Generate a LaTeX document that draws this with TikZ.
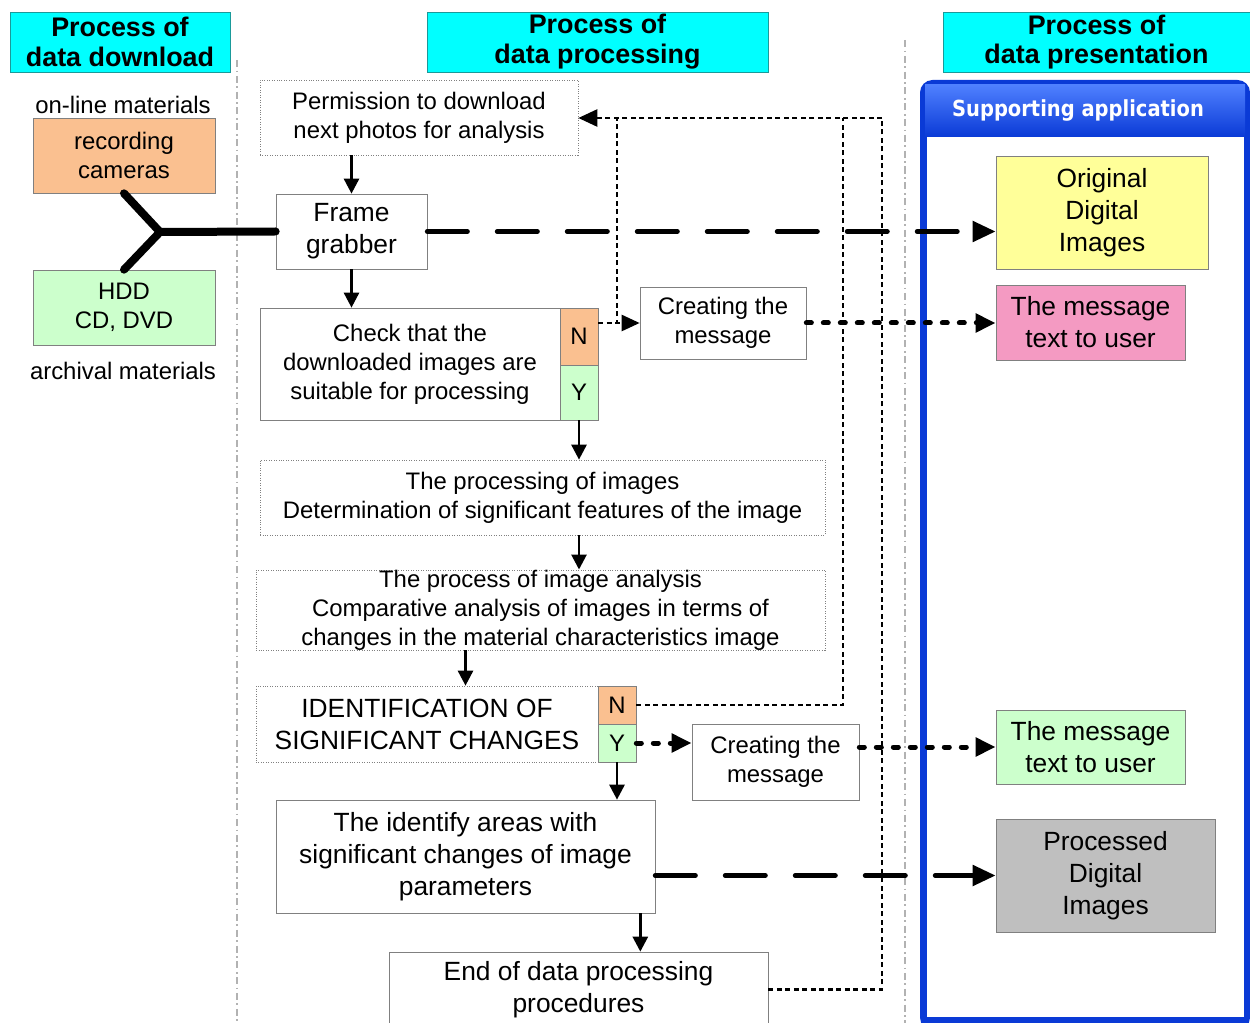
\documentclass[tikz,border=0pt]{standalone}
\usepackage{fontspec}
\setmainfont{Liberation Sans}
\newfontfamily\appfont[FakeStretch=0.88]{DejaVu Sans}
\usetikzlibrary{arrows.meta,calc}
\definecolor{headcyan}{HTML}{00FFFF}
\definecolor{headedge}{HTML}{1A9A9A}
\definecolor{camfill}{HTML}{FAC090}
\definecolor{greenfill}{HTML}{CCFFCC}
\definecolor{yellowfill}{HTML}{FFFF99}
\definecolor{pinkfill}{HTML}{F49AC2}
\definecolor{grayfill}{HTML}{BFBFBF}
\definecolor{appblue}{HTML}{0A3AD6}
\definecolor{applight}{HTML}{4F80FF}
\definecolor{boxedge}{HTML}{808080}
\newcommand\smalltxt{\fontsize{13.6}{16.5}\selectfont}
\newcommand\bigtxt{\fontsize{15}{18.2}\selectfont}

\begin{document}
\begin{tikzpicture}[x=0.02cm, y=-0.02cm,
  header/.style={rectangle, draw=headedge, fill=headcyan, inner sep=0pt, align=center,
    font=\bfseries\fontsize{15.3}{17}\selectfont, minimum height=1.2cm},
  box/.style={rectangle, draw=boxedge, fill=white, inner sep=0pt, align=center, font=\smalltxt},
  dotbox/.style={box, densely dotted},
  bigbox/.style={box, font=\bigtxt},
  flag/.style={rectangle, draw=boxedge, inner sep=0pt, minimum width=0.76cm, font=\smalltxt},
  apptitle/.style={text=white, font=\appfont\bfseries\fontsize{12.6}{15}\selectfont},
  arr/.style={-{Triangle[length=3mm,width=3mm]}, line width=0.055cm},
  datalink/.style={-{Triangle[length=4.6mm,width=4mm]}, line width=0.1cm, line cap=round,
    dash pattern=on 0.8cm off 0.6cm},
  msglink/.style={-{Triangle[length=4mm,width=3.6mm]}, line width=0.1cm, line cap=round,
    dash pattern=on 0.1cm off 0.24cm},
  back/.style={line width=0.05cm, dash pattern=on 0.1cm off 0.07cm},
  divider/.style={gray!60, line width=0.6pt, dash pattern=on 4pt off 2pt on 1pt off 2pt},
]
  \useasboundingbox (0,0) rectangle (1250,1023);

  % column dividers
  \draw[divider] (237,60) -- (237,1023);
  \draw[divider] (905,40) -- (905,1023);

  % supporting application panel
  \fill[appblue, rounded corners=0.25cm] (920,80) rectangle (1250,1030);
  \shade[top color=applight, bottom color=appblue] (925,85) rectangle (1245,137);
  \fill[white] (927,137) rectangle (1244,1017);
  \node[apptitle] (apptitle) at (1078,110) {Supporting application};

  % headers
  \node[header, minimum width=4.4cm] (hdown) at (120,42) {Process of\\data download};
  \node[header, minimum width=6.82cm] (hproc) at (597.5,42) {Process of\\data processing};
  \node[header, minimum width=6.14cm] (hpres) at (1096.5,42) {Process of\\data presentation};

  % data download
  \node[font=\smalltxt] (online) at (123,105) {on-line materials};
  \node[box, fill=camfill, minimum width=3.64cm, minimum height=1.5cm] (cam) at (124,155.5) {recording\\cameras};
  \node[box, fill=greenfill, minimum width=3.64cm, minimum height=1.5cm] (hdd) at (124,307.5) {HDD\\CD, DVD};
  \node[font=\smalltxt] (archive) at (123,371) {archival materials};
  \coordinate (fork) at (160,232);

  % data processing
  \node[dotbox, minimum width=6.36cm, minimum height=1.5cm] (perm) at (419,117.5) {Permission to download\\next photos for analysis};
  \node[bigbox, minimum width=3.02cm, minimum height=1.5cm] (frame) at (351.5,231.5) {Frame\\grabber};
  \node[box, minimum width=6cm, minimum height=2.24cm] (check) at (410,364) {Check that the\\downloaded images are\\suitable for processing};
  \node[flag, fill=camfill, minimum height=1.14cm] (checkN) at (579,336.5) {N};
  \node[flag, fill=greenfill, minimum height=1.1cm] (checkY) at (579,392.5) {Y};
  \node[box, minimum width=3.32cm, minimum height=1.44cm] (msgA) at (723,323) {Creating the\\message};
  \node[dotbox, minimum width=11.3cm, minimum height=1.5cm] (proc) at (542.5,497.5) {The processing of images\\Determination of significant features of the image};
  \node[dotbox, minimum width=11.38cm, minimum height=1.52cm] (anal) at (540.5,610) {The process of image analysis\\Comparative analysis of images in terms of\\changes in the material characteristics image};
  \node[dotbox, font=\bigtxt, minimum width=6.84cm, minimum height=1.52cm] (ident) at (427,724) {IDENTIFICATION OF\\SIGNIFICANT CHANGES};
  \node[flag, fill=camfill, minimum height=0.76cm] (identN) at (617,705) {N};
  \node[flag, fill=greenfill, minimum height=0.76cm] (identY) at (617,743) {Y};
  \node[box, minimum width=3.34cm, minimum height=1.52cm] (msgB) at (775.5,762) {Creating the\\message};
  \node[bigbox, minimum width=7.58cm, minimum height=2.26cm] (areas) at (465.5,856.5) {The identify areas with\\significant changes of image\\parameters};
  \node[bigbox, minimum width=7.58cm, minimum height=1.5cm] (endp) at (578.5,989.5) {End of data processing\\procedures};

  % data presentation
  \node[bigbox, fill=yellowfill, minimum width=4.24cm, minimum height=2.26cm] (orig) at (1102,212.5) {Original\\Digital\\Images};
  \node[bigbox, fill=pinkfill, minimum width=3.78cm, minimum height=1.5cm] (msgP) at (1090.5,322.5) {The message\\text to user};
  \node[bigbox, fill=greenfill, minimum width=3.78cm, minimum height=1.48cm] (msgG) at (1090.5,747) {The message\\text to user};
  \node[bigbox, fill=grayfill, minimum width=4.38cm, minimum height=2.26cm] (procd) at (1105.5,875.5) {Processed\\Digital\\Images};

  % sources into the frame grabber
  \draw[line width=0.16cm, line cap=round] (cam.south) -- (fork) -- (hdd.north);
  \draw[line width=0.16cm, line cap=round] (fork) -- (frame.west);

  % main flow
  \draw[arr] (perm.south -| frame) -- (frame.north);
  \draw[arr] (frame.south) -- (frame.south |- check.north);
  \draw[arr] (checkY.south) -- (checkY.south |- proc.north);
  \draw[arr] (proc.south -| checkY) -- (anal.north -| checkY);
  \draw[arr] (anal.south -| areas) -- (ident.north -| areas);
  \draw[arr] (identY.south) -- (identY.south |- areas.north);
  \coordinate (areasout) at ($(areas.south east)+(-15,0)$);
  \draw[arr] (areasout) -- (areasout |- endp.north);

  % loops back to the permission
  \coordinate (backA) at (617,118);
  \coordinate (backB) at (843,118);
  \coordinate (backC) at (882,118);
  \draw[back, -{Triangle[length=3.6mm,width=3.2mm]}] (checkN.east |- msgA) -- (msgA.west);
  \draw[back] (checkN.east |- msgA) -| (backA);
  \draw[back] (identN.east) -| (backB);
  \draw[back] (endp.east) -| (backC);
  \draw[back, -{Triangle[length=3.8mm,width=3.4mm]}] (backC) -- (backC -| perm.east);

  % outputs to the application
  \draw[datalink] (frame.east) -- (frame.east -| orig.west);
  \draw[datalink] (areas.east |- procd) -- (procd.west);
  \draw[msglink] (msgA.east) -- (msgA.east -| msgP.west);
  \draw[msglink] (identY.east) -- (identY.east -| msgB.west);
  \draw[msglink] (msgB.east |- msgG) -- (msgG.west);
\end{tikzpicture}
\end{document}
